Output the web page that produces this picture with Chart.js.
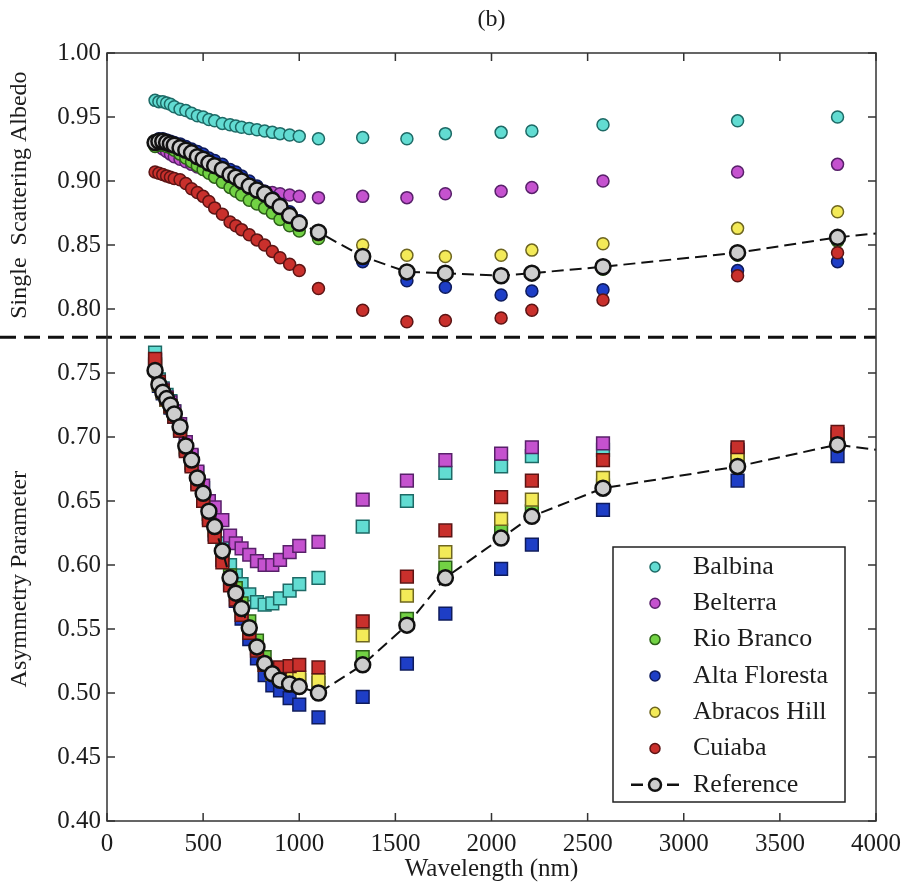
<!DOCTYPE html>
<html>
<head>
<meta charset="utf-8">
<title>(b) Single scattering albedo and asymmetry parameter</title>
<script src="https://cdn.jsdelivr.net/npm/chart.js@4.4.1/dist/chart.umd.min.js"></script>
<style>
    html, body { margin: 0; padding: 0; background: #fff; }
</style>
</head>
<body>
<canvas id="opticsChart" width="909" height="886"></canvas>
<script>
// wavelengths (nm) shared by all sites
const wavelengths = [250, 270, 290, 310, 330, 350, 380, 410, 440, 470, 500, 530, 560, 600, 640, 670, 700,
    740, 780, 820, 860, 900, 950, 1000, 1100, 1330, 1560, 1760, 2050, 2210, 2580, 3280, 3800];

// single scattering albedo
const balbinaSsa = [0.963, 0.962, 0.962, 0.961, 0.960, 0.958, 0.956, 0.955, 0.953, 0.951, 0.950, 0.948, 0.947,
    0.945, 0.944, 0.943, 0.942, 0.941, 0.940, 0.939, 0.938, 0.937, 0.936, 0.935, 0.933,
    0.934, 0.933, 0.937, 0.938, 0.939, 0.944, 0.947, 0.950];
const belterraSsa = [0.928, 0.927, 0.925, 0.923, 0.921, 0.919, 0.917, 0.915, 0.913, 0.911, 0.909, 0.907, 0.905,
    0.903, 0.901, 0.899, 0.898, 0.896, 0.894, 0.892, 0.891, 0.890, 0.889, 0.888, 0.887,
    0.888, 0.887, 0.890, 0.892, 0.895, 0.900, 0.907, 0.913];
const rioBrancoSsa = [0.927, 0.928, 0.928, 0.927, 0.926, 0.924, 0.921, 0.918, 0.915, 0.912, 0.909, 0.906, 0.903,
    0.899, 0.895, 0.892, 0.889, 0.885, 0.882, 0.879, 0.875, 0.870, 0.865, 0.861, 0.855,
    0.838, 0.828, 0.826, 0.825, 0.827, 0.831, 0.842, 0.853];
const altaFlorestaSsa = [0.931, 0.933, 0.933, 0.932, 0.931, 0.930, 0.929, 0.927, 0.925, 0.923, 0.921, 0.918, 0.916,
    0.913, 0.909, 0.907, 0.904, 0.900, 0.896, 0.892, 0.887, 0.882, 0.876, 0.869, 0.859,
    0.837, 0.822, 0.817, 0.811, 0.814, 0.815, 0.830, 0.837];
const abracosHillSsa = [0.929, 0.930, 0.930, 0.929, 0.928, 0.927, 0.925, 0.923, 0.921, 0.918, 0.916, 0.913, 0.911,
    0.908, 0.904, 0.902, 0.899, 0.895, 0.892, 0.889, 0.884, 0.879, 0.872, 0.866, 0.858,
    0.850, 0.842, 0.841, 0.842, 0.846, 0.851, 0.863, 0.876];
const cuiabaSsa = [0.907, 0.906, 0.905, 0.904, 0.903, 0.902, 0.901, 0.898, 0.894, 0.891, 0.888, 0.884, 0.879,
    0.874, 0.868, 0.865, 0.862, 0.858, 0.854, 0.850, 0.845, 0.840, 0.835, 0.830, 0.816,
    0.799, 0.790, 0.791, 0.793, 0.799, 0.807, 0.826, 0.844];

// asymmetry parameter
const balbinaAsy = [0.766, 0.745, 0.738, 0.733, 0.728, 0.720, 0.710, 0.696, 0.685, 0.672, 0.660, 0.647, 0.635,
    0.617, 0.600, 0.592, 0.585, 0.577, 0.571, 0.569, 0.570, 0.574, 0.580, 0.585, 0.590,
    0.630, 0.650, 0.672, 0.677, 0.685, 0.690, 0.688, 0.700];
const belterraAsy = [0.760, 0.743, 0.737, 0.731, 0.727, 0.720, 0.710, 0.696, 0.686, 0.673, 0.662, 0.650, 0.645,
    0.635, 0.623, 0.617, 0.613, 0.608, 0.603, 0.600, 0.600, 0.604, 0.610, 0.615, 0.618,
    0.651, 0.666, 0.682, 0.687, 0.692, 0.695, 0.690, 0.702];
const rioBrancoAsy = [0.757, 0.742, 0.735, 0.729, 0.724, 0.716, 0.706, 0.691, 0.680, 0.666, 0.654, 0.640, 0.627,
    0.608, 0.592, 0.582, 0.570, 0.556, 0.541, 0.528, 0.519, 0.513, 0.510, 0.510, 0.508,
    0.528, 0.558, 0.598, 0.627, 0.642, 0.662, 0.680, 0.695];
const altaFlorestaAsy = [0.755, 0.740, 0.734, 0.729, 0.723, 0.716, 0.705, 0.690, 0.678, 0.664, 0.651, 0.637, 0.624,
    0.604, 0.585, 0.572, 0.558, 0.542, 0.527, 0.514, 0.506, 0.502, 0.496, 0.491, 0.481,
    0.497, 0.523, 0.562, 0.597, 0.616, 0.643, 0.666, 0.685];
const abracosHillAsy = [0.756, 0.741, 0.735, 0.729, 0.724, 0.717, 0.707, 0.692, 0.680, 0.667, 0.654, 0.640, 0.628,
    0.608, 0.589, 0.577, 0.564, 0.549, 0.535, 0.522, 0.515, 0.513, 0.512, 0.512, 0.510,
    0.545, 0.576, 0.610, 0.636, 0.651, 0.668, 0.684, 0.698];
const cuiabaAsy = [0.761, 0.743, 0.736, 0.730, 0.724, 0.716, 0.705, 0.689, 0.677, 0.663, 0.650, 0.635, 0.622,
    0.602, 0.584, 0.573, 0.561, 0.547, 0.533, 0.522, 0.519, 0.520, 0.521, 0.522, 0.520,
    0.556, 0.591, 0.627, 0.653, 0.666, 0.682, 0.692, 0.704];

// reference model, its dashed curve runs on to 4000 nm
const referenceWavelengths = [...wavelengths, 4000];
const referenceSsa = [0.930, 0.931, 0.931, 0.930, 0.929, 0.928, 0.926, 0.924, 0.922, 0.919, 0.917, 0.914, 0.912,
    0.909, 0.905, 0.903, 0.900, 0.896, 0.893, 0.890, 0.885, 0.880, 0.873, 0.867, 0.860,
    0.841, 0.829, 0.828, 0.826, 0.828, 0.833, 0.844, 0.856, 0.859];
const referenceAsy = [0.752, 0.741, 0.735, 0.730, 0.725, 0.718, 0.708, 0.693, 0.682, 0.668, 0.656, 0.642, 0.630,
    0.611, 0.590, 0.578, 0.566, 0.551, 0.536, 0.523, 0.515, 0.510, 0.507, 0.505, 0.500,
    0.522, 0.553, 0.590, 0.621, 0.638, 0.660, 0.677, 0.694, 0.690];

// boundary between the two panels
const panelSplit = 0.778;

const siteNames = ['Balbina', 'Belterra', 'Rio Branco', 'Alta Floresta', 'Abracos Hill', 'Cuiaba'];
const siteSsa = [balbinaSsa, belterraSsa, rioBrancoSsa, altaFlorestaSsa, abracosHillSsa, cuiabaSsa];
const siteAsy = [balbinaAsy, belterraAsy, rioBrancoAsy, altaFlorestaAsy, abracosHillAsy, cuiabaAsy];
const siteFill = ['#62dcd2', '#c552cf', '#72d244', '#1e3ec6', '#f3ea58', '#c9302c'];
const siteEdge = ['#1d6a66', '#58206a', '#2c6018', '#0e1b5c', '#6e6620', '#5c1414'];

const FONT = '"Liberation Serif", "Times New Roman", serif';
const INK = '#1c1c1c';

function toPoints(xs, ys) {
    return xs.map((x, i) => ({x: x, y: ys[i]}));
}

function buildDatasets() {
    let datasets = [];
    for (let i = 0; i < siteNames.length; i++) {
        const order = siteNames.length - i;
        datasets.push({
            label: siteNames[i] + ' SSA',
            data: toPoints(wavelengths, siteSsa[i]),
            pointStyle: 'circle',
            pointRadius: 6,
            backgroundColor: siteFill[i],
            borderColor: siteEdge[i],
            borderWidth: 1.5,
            order: order
        });
        datasets.push({
            label: siteNames[i] + ' g',
            data: toPoints(wavelengths, siteAsy[i]),
            pointStyle: 'rect',
            pointRadius: 9,
            backgroundColor: siteFill[i],
            borderColor: siteEdge[i],
            borderWidth: 1.5,
            order: order
        });
    }

    // last point of the reference curves is line only
    const refRadius = referenceWavelengths.map((w, i) => i === referenceWavelengths.length - 1 ? 0 : 7.5);
    [referenceSsa, referenceAsy].forEach((values, k) => {
        datasets.push({
            label: k === 0 ? 'Reference SSA' : 'Reference g',
            data: toPoints(referenceWavelengths, values),
            showLine: true,
            borderColor: '#111',
            borderWidth: 2,
            borderDash: [12, 6],
            pointRadius: refRadius,
            pointBackgroundColor: '#cdcdcd',
            pointBorderColor: '#111',
            pointBorderWidth: 2.5,
            order: 0
        });
    });
    return datasets;
}

const decorPlugin = {
    id: 'decor',
    afterDatasetsDraw(chart) {
        const ctx = chart.ctx;
        const area = chart.chartArea;
        const y = chart.scales.y.getPixelForValue(panelSplit);
        ctx.save();
        ctx.strokeStyle = '#111';
        ctx.lineWidth = 3;
        ctx.setLineDash([16, 8]);
        ctx.beginPath();
        ctx.moveTo(0, y);
        ctx.lineTo(area.right, y);
        ctx.stroke();
        ctx.restore();
    },
    afterDraw(chart) {
        const ctx = chart.ctx;
        const area = chart.chartArea;
        const xScale = chart.scales.x;
        const yScale = chart.scales.y;
        const tick = 8;

        ctx.save();
        // box round the axes with inward ticks on all four sides
        ctx.strokeStyle = '#333';
        ctx.lineWidth = 1.5;
        ctx.strokeRect(area.left, area.top, area.right - area.left, area.bottom - area.top);
        ctx.beginPath();
        xScale.ticks.forEach(t => {
            const px = xScale.getPixelForValue(t.value);
            ctx.moveTo(px, area.bottom);
            ctx.lineTo(px, area.bottom - tick);
            ctx.moveTo(px, area.top);
            ctx.lineTo(px, area.top + tick);
        });
        yScale.ticks.forEach(t => {
            const py = yScale.getPixelForValue(t.value);
            ctx.moveTo(area.left, py);
            ctx.lineTo(area.left + tick, py);
            ctx.moveTo(area.right, py);
            ctx.lineTo(area.right - tick, py);
        });
        ctx.stroke();

        // titles
        ctx.fillStyle = INK;
        ctx.textAlign = 'center';
        ctx.textBaseline = 'middle';
        ctx.font = '24px ' + FONT;
        ctx.fillText('(b)', (area.left + area.right) / 2, 20);
        ctx.font = '25px ' + FONT;
        ctx.fillText('Wavelength (nm)', (area.left + area.right) / 2, 869);

        const split = yScale.getPixelForValue(panelSplit);
        ctx.font = '24px ' + FONT;
        ctx.save();
        ctx.translate(20, (area.top + split) / 2);
        ctx.rotate(-Math.PI / 2);
        ctx.fillText('Single  Scattering Albedo', 0, 0);
        ctx.restore();
        ctx.save();
        ctx.translate(20, (split + area.bottom) / 2);
        ctx.rotate(-Math.PI / 2);
        ctx.fillText('Asymmetry Parameter', 0, 0);
        ctx.restore();

        this.drawLegend(ctx);
        ctx.restore();
    },
    drawLegend(ctx) {
        const box = {left: 613, top: 547, right: 845, bottom: 802};
        const rowStep = 36.3;
        const markerX = 655;
        const textX = 693;

        ctx.fillStyle = '#fff';
        ctx.fillRect(box.left, box.top, box.right - box.left, box.bottom - box.top);
        ctx.strokeStyle = '#222';
        ctx.lineWidth = 1.5;
        ctx.setLineDash([]);
        ctx.strokeRect(box.left, box.top, box.right - box.left, box.bottom - box.top);

        ctx.font = '26px ' + FONT;
        ctx.textAlign = 'left';
        ctx.textBaseline = 'middle';
        for (let i = 0; i <= siteNames.length; i++) {
            const y = box.top + 20 + i * rowStep;
            if (i < siteNames.length) {
                ctx.beginPath();
                ctx.arc(markerX, y, 5, 0, Math.PI * 2);
                ctx.fillStyle = siteFill[i];
                ctx.fill();
                ctx.strokeStyle = siteEdge[i];
                ctx.lineWidth = 1.5;
                ctx.stroke();
                ctx.fillStyle = INK;
                ctx.fillText(siteNames[i], textX, y);
            } else {
                ctx.strokeStyle = '#111';
                ctx.lineWidth = 2.5;
                ctx.setLineDash([12, 6]);
                ctx.beginPath();
                ctx.moveTo(markerX - 24, y);
                ctx.lineTo(markerX + 26, y);
                ctx.stroke();
                ctx.setLineDash([]);
                ctx.beginPath();
                ctx.arc(markerX, y, 6, 0, Math.PI * 2);
                ctx.fillStyle = '#cdcdcd';
                ctx.fill();
                ctx.lineWidth = 2.5;
                ctx.stroke();
                ctx.fillStyle = INK;
                ctx.fillText('Reference', textX, y);
            }
        }
    }
};

new Chart(document.getElementById('opticsChart'), {
    type: 'scatter',
    data: {datasets: buildDatasets()},
    options: {
        responsive: false,
        animation: false,
        events: [],
        layout: {padding: {top: 53, right: 30, left: 0, bottom: 0}},
        plugins: {
            legend: {display: false},
            tooltip: {enabled: false},
            title: {display: false}
        },
        scales: {
            x: {
                type: 'linear',
                min: 0,
                max: 4000,
                grid: {display: false, drawTicks: false},
                border: {display: false},
                ticks: {
                    stepSize: 500,
                    padding: 8,
                    color: INK,
                    font: {family: FONT, size: 25},
                    maxRotation: 0,
                    callback: value => String(value)
                },
                afterFit(scale) {
                    scale.height = 65;
                }
            },
            y: {
                type: 'linear',
                min: 0.4,
                max: 1.0,
                grid: {display: false, drawTicks: false},
                border: {display: false},
                ticks: {
                    stepSize: 0.05,
                    padding: 6,
                    color: INK,
                    font: {family: FONT, size: 25},
                    callback: value => value.toFixed(2)
                },
                afterFit(scale) {
                    scale.width = 107;
                }
            }
        }
    },
    plugins: [decorPlugin]
});
</script>
</body>
</html>
